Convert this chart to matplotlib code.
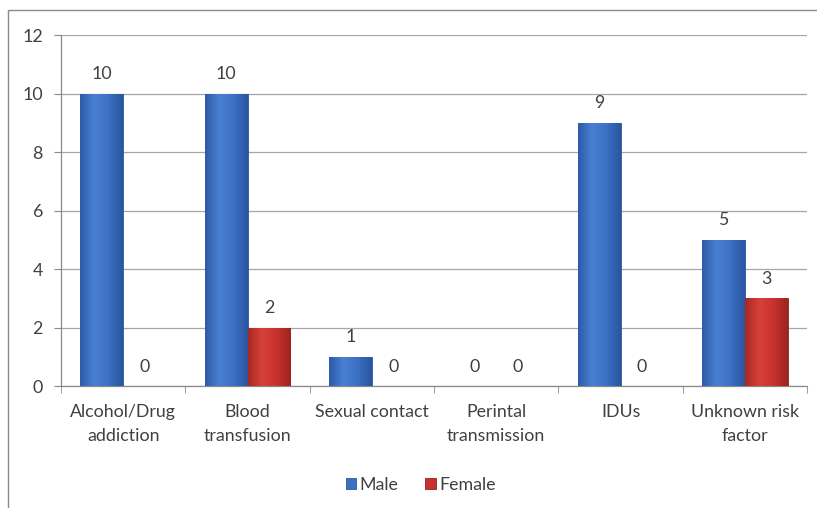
import numpy as np
import matplotlib.pyplot as plt
from matplotlib.patches import Rectangle
from matplotlib.colors import LinearSegmentedColormap

plt.rcParams["font.family"] = ["Lato", "DejaVu Sans"]
plt.rcParams["font.size"] = 12.8

categories = ["Alcohol/Drug\naddiction", "Blood\ntransfusion", "Sexual contact",
              "Perintal\ntransmission", "IDUs", "Unknown risk\nfactor"]
male = [10, 10, 1, 0, 9, 5]
female = [0, 2, 0, 0, 0, 3]

BLUE = "#3b70c4"
RED = "#c8322e"
TEXT = "#404040"

fig = plt.figure(figsize=(8.17, 5.08), dpi=100)
ax = fig.add_axes([0.0747, 0.240, 0.9133, 0.691])

# outer chart frame
fig.patches.append(Rectangle((8 / 817, -0.1), 1.2, 1 - 10 / 508 + 0.1,
                             transform=fig.transFigure, fill=False,
                             edgecolor="#8a8a8a", linewidth=1.0))

x = np.arange(len(categories))
w = 0.345
b1 = ax.bar(x - w / 2, male, w, color=BLUE, edgecolor="#2a559c", linewidth=0.6,
            label="Male", zorder=3)
b2 = ax.bar(x + w / 2, female, w, color=RED, edgecolor="#8e2220", linewidth=0.6,
            label="Female", zorder=3)

# soft horizontal shading across each bar
shades = {
    BLUE: LinearSegmentedColormap.from_list("b", ["#2c5ba8", "#4a80d2", "#3b70c4", "#2a56a0"]),
    RED: LinearSegmentedColormap.from_list("r", ["#a82824", "#d8403a", "#c8322e", "#9c2420"]),
}
grad = np.linspace(0, 1, 64).reshape(1, -1)
for bars, col in ((b1, BLUE), (b2, RED)):
    for bar in bars:
        h = bar.get_height()
        if h <= 0:
            continue
        x0 = bar.get_x()
        im = ax.imshow(grad, cmap=shades[col], aspect="auto", zorder=3.5,
                       extent=(x0, x0 + bar.get_width(), 0, h))
        im.set_clip_path(bar)

for bars, vals in ((b1, male), (b2, female)):
    for bar, v in zip(bars, vals):
        ax.annotate(str(v), (bar.get_x() + bar.get_width() / 2, v),
                    xytext=(0, 14), textcoords="offset points",
                    ha="center", va="center", color=TEXT)

ax.set_xlim(-0.5, len(categories) - 0.5)
ax.set_ylim(0, 12)
ax.set_yticks(range(0, 13, 2))
ax.yaxis.grid(True, color="#a6a6a6", linewidth=0.9, zorder=0)
ax.set_axisbelow(True)

ax.set_xticks(x)
ax.set_xticklabels(categories, color=TEXT, linespacing=1.6)
ax.set_xticks(np.arange(-0.5, len(categories)), minor=True)
ax.tick_params(axis="x", which="major", length=0, pad=13)
ax.tick_params(axis="x", which="minor", length=5, color="#8a8a8a")
ax.tick_params(axis="y", length=5, color="#8a8a8a", labelcolor=TEXT, pad=8)

for s in ("top", "right"):
    ax.spines[s].set_visible(False)
for s in ("left", "bottom"):
    ax.spines[s].set_color("#8a8a8a")
    ax.spines[s].set_linewidth(0.9)

leg = fig.legend(handles=[b1, b2], loc="center", bbox_to_anchor=(0.515, 1 - 485 / 508),
                 ncol=2, frameon=False, handlelength=0.6, handleheight=0.6,
                 handletextpad=0.2, columnspacing=1.5)
for t in leg.get_texts():
    t.set_color(TEXT)

fig.savefig("out.png", dpi=100)
